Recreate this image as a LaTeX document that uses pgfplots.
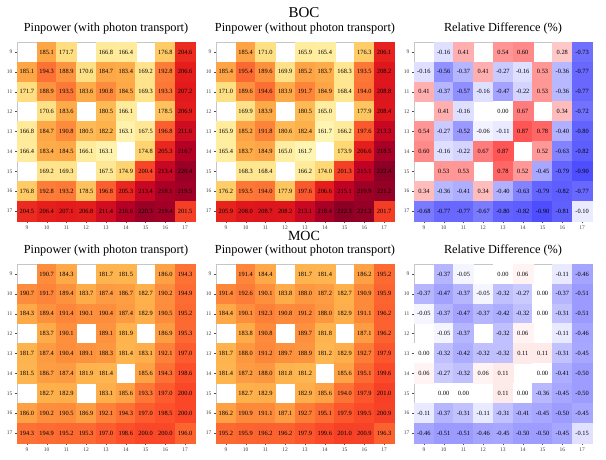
\documentclass[border=0pt]{standalone}
\usepackage{fontspec}
\setmainfont{Liberation Serif}
\usepackage{pgfplots}
\pgfplotsset{compat=1.18}
\usepackage{pgfplotstable}

\pgfplotsset{
  colormap={ylorrd}{rgb255=(255,255,204) rgb255=(255,237,160) rgb255=(254,217,118) rgb255=(254,178,76) rgb255=(253,141,60) rgb255=(252,78,42) rgb255=(227,26,28) rgb255=(189,0,38) rgb255=(128,0,38)},
  colormap={bwr}{rgb255=(0,0,255) rgb255=(255,255,255) rgb255=(255,0,0)},
  hm/.style={
    scale only axis, width=178pt, height=179pt,
    xmin=8.5, xmax=17.5, ymin=8.5, ymax=17.5, y dir=reverse,
    xtick={9,...,17}, ytick={9,...,17},
    tick align=outside, major tick length=2pt,
    xtick pos=left, ytick pos=left,
    tick style={gray!60!black, line width=0.3pt},
    ticklabel style={font=\fontsize{5.5}{6}\selectfont, text=black!75},
    xticklabel style={yshift=1pt}, yticklabel style={xshift=1pt},
    axis line style={gray!45, line width=0.4pt},
    title style={font=\fontsize{12.3}{14}\selectfont, inner sep=2pt},
    /pgf/number format/assume math mode=true,
    axis on top, anchor=north west,
  },
  pp/.style={colormap name=ylorrd, point meta min=157, point meta max=224},
  rd/.style={colormap name=bwr, point meta min=-1.3, point meta max=1.3},
  hcells/.style={scatter, only marks, mark=square*, mark size=9.93pt,
    scatter/use mapped color={draw=mapped color, fill=mapped color},
    point meta=explicit,
    nodes near coords*={\pgfmathprintnumber[fixed,fixed zerofill,precision=#1,assume math mode=true]{\pgfplotspointmeta}},
    every node near coord/.append style={anchor=center, inner sep=0pt, text=black, font=\fontsize{6.4}{7}\selectfont}},
}

% BOC, with photon transport
\pgfplotstableread[row sep=\\]{
x y z\\
10 9 185.1\\ 11 9 171.7\\ 13 9 166.8\\ 14 9 166.4\\ 16 9 176.8\\ 17 9 204.6\\
9 10 185.1\\ 10 10 194.3\\ 11 10 188.9\\ 12 10 170.6\\ 13 10 184.7\\ 14 10 183.4\\ 15 10 169.2\\ 16 10 192.8\\ 17 10 206.6\\
9 11 171.7\\ 10 11 188.9\\ 11 11 193.5\\ 12 11 183.6\\ 13 11 190.8\\ 14 11 184.5\\ 15 11 169.3\\ 16 11 193.3\\ 17 11 207.2\\
10 12 170.6\\ 11 12 183.6\\ 13 12 180.5\\ 14 12 166.1\\ 16 12 178.5\\ 17 12 206.9\\
9 13 166.8\\ 10 13 184.7\\ 11 13 190.8\\ 12 13 180.5\\ 13 13 182.2\\ 14 13 163.1\\ 15 13 167.5\\ 16 13 196.8\\ 17 13 211.6\\
9 14 166.4\\ 10 14 183.4\\ 11 14 184.5\\ 12 14 166.1\\ 13 14 163.1\\ 15 14 174.8\\ 16 14 205.3\\ 17 14 216.7\\
10 15 169.2\\ 11 15 169.3\\ 13 15 167.5\\ 14 15 174.9\\ 15 15 200.4\\ 16 15 213.4\\ 17 15 220.4\\
9 16 176.8\\ 10 16 192.8\\ 11 16 193.2\\ 12 16 178.5\\ 13 16 196.8\\ 14 16 205.3\\ 15 16 213.4\\ 16 16 218.1\\ 17 16 219.5\\
9 17 204.5\\ 10 17 206.4\\ 11 17 207.1\\ 12 17 206.8\\ 13 17 211.4\\ 14 17 216.6\\ 15 17 220.3\\ 16 17 219.4\\ 17 17 201.5\\
}\tA

% BOC, without photon transport
\pgfplotstableread[row sep=\\]{
x y z\\
10 9 185.4\\ 11 9 171.0\\ 13 9 165.9\\ 14 9 165.4\\ 16 9 176.3\\ 17 9 206.1\\
9 10 185.4\\ 10 10 195.4\\ 11 10 189.6\\ 12 10 169.9\\ 13 10 185.2\\ 14 10 183.7\\ 15 10 168.3\\ 16 10 193.5\\ 17 10 208.2\\
9 11 171.0\\ 10 11 189.6\\ 11 11 194.6\\ 12 11 183.9\\ 13 11 191.7\\ 14 11 184.9\\ 15 11 168.4\\ 16 11 194.0\\ 17 11 208.8\\
10 12 169.9\\ 11 12 183.9\\ 13 12 180.5\\ 14 12 165.0\\ 16 12 177.9\\ 17 12 208.4\\
9 13 165.9\\ 10 13 185.2\\ 11 13 191.8\\ 12 13 180.6\\ 13 13 182.4\\ 14 13 161.7\\ 15 13 166.2\\ 16 13 197.6\\ 17 13 213.3\\
9 14 165.4\\ 10 14 183.7\\ 11 14 184.9\\ 12 14 165.0\\ 13 14 161.7\\ 15 14 173.9\\ 16 14 206.6\\ 17 14 218.5\\
10 15 168.3\\ 11 15 168.4\\ 13 15 166.2\\ 14 15 174.0\\ 15 15 201.3\\ 16 15 215.1\\ 17 15 222.4\\
9 16 176.2\\ 10 16 193.5\\ 11 16 194.0\\ 12 16 177.9\\ 13 16 197.6\\ 14 16 206.6\\ 15 16 215.1\\ 16 16 219.9\\ 17 16 221.2\\
9 17 205.9\\ 10 17 208.0\\ 11 17 208.7\\ 12 17 208.2\\ 13 17 213.1\\ 14 17 218.4\\ 15 17 222.3\\ 16 17 221.2\\ 17 17 201.7\\
}\tB

% BOC, relative difference
\pgfplotstableread[row sep=\\]{
x y z\\
10 9 -0.16\\ 11 9 0.41\\ 13 9 0.54\\ 14 9 0.60\\ 16 9 0.28\\ 17 9 -0.73\\
9 10 -0.16\\ 10 10 -0.56\\ 11 10 -0.37\\ 12 10 0.41\\ 13 10 -0.27\\ 14 10 -0.16\\ 15 10 0.53\\ 16 10 -0.36\\ 17 10 -0.77\\
9 11 0.41\\ 10 11 -0.37\\ 11 11 -0.57\\ 12 11 -0.16\\ 13 11 -0.47\\ 14 11 -0.22\\ 15 11 0.53\\ 16 11 -0.36\\ 17 11 -0.77\\
10 12 0.41\\ 11 12 -0.16\\ 13 12 0.00\\ 14 12 0.67\\ 16 12 0.34\\ 17 12 -0.72\\
9 13 0.54\\ 10 13 -0.27\\ 11 13 -0.52\\ 12 13 -0.06\\ 13 13 -0.11\\ 14 13 0.87\\ 15 13 0.78\\ 16 13 -0.40\\ 17 13 -0.80\\
9 14 0.60\\ 10 14 -0.16\\ 11 14 -0.22\\ 12 14 0.67\\ 13 14 0.87\\ 15 14 0.52\\ 16 14 -0.63\\ 17 14 -0.82\\
10 15 0.53\\ 11 15 0.53\\ 13 15 0.78\\ 14 15 0.52\\ 15 15 -0.45\\ 16 15 -0.79\\ 17 15 -0.90\\
9 16 0.34\\ 10 16 -0.36\\ 11 16 -0.41\\ 12 16 0.34\\ 13 16 -0.40\\ 14 16 -0.63\\ 15 16 -0.79\\ 16 16 -0.82\\ 17 16 -0.77\\
9 17 -0.68\\ 10 17 -0.77\\ 11 17 -0.77\\ 12 17 -0.67\\ 13 17 -0.80\\ 14 17 -0.82\\ 15 17 -0.90\\ 16 17 -0.81\\ 17 17 -0.10\\
}\tC

% MOC, with photon transport
\pgfplotstableread[row sep=\\]{
x y z\\
10 9 190.7\\ 11 9 184.3\\ 13 9 181.7\\ 14 9 181.5\\ 16 9 186.0\\ 17 9 194.3\\
9 10 190.7\\ 10 10 191.7\\ 11 10 189.4\\ 12 10 183.7\\ 13 10 187.4\\ 14 10 186.7\\ 15 10 182.7\\ 16 10 190.2\\ 17 10 194.9\\
9 11 184.3\\ 10 11 189.4\\ 11 11 191.4\\ 12 11 190.1\\ 13 11 190.4\\ 14 11 187.4\\ 15 11 182.9\\ 16 11 190.5\\ 17 11 195.2\\
10 12 183.7\\ 11 12 190.1\\ 13 12 189.1\\ 14 12 181.9\\ 16 12 186.9\\ 17 12 195.3\\
9 13 181.7\\ 10 13 187.4\\ 11 13 190.4\\ 12 13 189.1\\ 13 13 188.3\\ 14 13 181.4\\ 15 13 183.1\\ 16 13 192.1\\ 17 13 197.0\\
9 14 181.5\\ 10 14 186.7\\ 11 14 187.4\\ 12 14 181.9\\ 13 14 181.4\\ 15 14 185.6\\ 16 14 194.3\\ 17 14 198.6\\
10 15 182.7\\ 11 15 182.9\\ 13 15 183.1\\ 14 15 185.6\\ 15 15 193.3\\ 16 15 197.0\\ 17 15 200.0\\
9 16 186.0\\ 10 16 190.2\\ 11 16 190.5\\ 12 16 186.9\\ 13 16 192.1\\ 14 16 194.3\\ 15 16 197.0\\ 16 16 198.5\\ 17 16 200.0\\
9 17 194.3\\ 10 17 194.9\\ 11 17 195.2\\ 12 17 195.3\\ 13 17 197.0\\ 14 17 198.6\\ 15 17 200.0\\ 16 17 200.0\\ 17 17 196.0\\
}\tD

% MOC, without photon transport
\pgfplotstableread[row sep=\\]{
x y z\\
10 9 191.4\\ 11 9 184.4\\ 13 9 181.7\\ 14 9 181.4\\ 16 9 186.2\\ 17 9 195.2\\
9 10 191.4\\ 10 10 192.6\\ 11 10 190.1\\ 12 10 183.8\\ 13 10 188.0\\ 14 10 187.2\\ 15 10 182.7\\ 16 10 190.9\\ 17 10 195.9\\
9 11 184.4\\ 10 11 190.1\\ 11 11 192.3\\ 12 11 190.8\\ 13 11 191.2\\ 14 11 188.0\\ 15 11 182.9\\ 16 11 191.1\\ 17 11 196.2\\
10 12 183.8\\ 11 12 190.8\\ 13 12 189.7\\ 14 12 181.8\\ 16 12 187.1\\ 17 12 196.2\\
9 13 181.7\\ 10 13 188.0\\ 11 13 191.2\\ 12 13 189.7\\ 13 13 188.9\\ 14 13 181.2\\ 15 13 182.9\\ 16 13 192.7\\ 17 13 197.9\\
9 14 181.4\\ 10 14 187.2\\ 11 14 188.0\\ 12 14 181.8\\ 13 14 181.2\\ 15 14 185.6\\ 16 14 195.1\\ 17 14 199.6\\
10 15 182.7\\ 11 15 182.9\\ 13 15 182.9\\ 14 15 185.6\\ 15 15 194.0\\ 16 15 197.9\\ 17 15 201.0\\
9 16 186.2\\ 10 16 190.9\\ 11 16 191.1\\ 12 16 187.1\\ 13 16 192.7\\ 14 16 195.1\\ 15 16 197.9\\ 16 16 199.5\\ 17 16 200.9\\
9 17 195.2\\ 10 17 195.9\\ 11 17 196.2\\ 12 17 196.2\\ 13 17 197.9\\ 14 17 199.6\\ 15 17 201.0\\ 16 17 200.9\\ 17 17 196.3\\
}\tE

% MOC, relative difference
\pgfplotstableread[row sep=\\]{
x y z\\
10 9 -0.37\\ 11 9 -0.05\\ 13 9 0.00\\ 14 9 0.06\\ 16 9 -0.11\\ 17 9 -0.46\\
9 10 -0.37\\ 10 10 -0.47\\ 11 10 -0.37\\ 12 10 -0.05\\ 13 10 -0.32\\ 14 10 -0.27\\ 15 10 0.00\\ 16 10 -0.37\\ 17 10 -0.51\\
9 11 -0.05\\ 10 11 -0.37\\ 11 11 -0.47\\ 12 11 -0.37\\ 13 11 -0.42\\ 14 11 -0.32\\ 15 11 0.00\\ 16 11 -0.31\\ 17 11 -0.51\\
10 12 -0.05\\ 11 12 -0.37\\ 13 12 -0.32\\ 14 12 0.06\\ 16 12 -0.11\\ 17 12 -0.46\\
9 13 0.00\\ 10 13 -0.32\\ 11 13 -0.42\\ 12 13 -0.32\\ 13 13 -0.32\\ 14 13 0.11\\ 15 13 0.11\\ 16 13 -0.31\\ 17 13 -0.45\\
9 14 0.06\\ 10 14 -0.27\\ 11 14 -0.32\\ 12 14 0.06\\ 13 14 0.11\\ 15 14 0.00\\ 16 14 -0.41\\ 17 14 -0.50\\
10 15 0.00\\ 11 15 0.00\\ 13 15 0.11\\ 14 15 0.00\\ 15 15 -0.36\\ 16 15 -0.45\\ 17 15 -0.50\\
9 16 -0.11\\ 10 16 -0.37\\ 11 16 -0.31\\ 12 16 -0.11\\ 13 16 -0.31\\ 14 16 -0.41\\ 15 16 -0.45\\ 16 16 -0.50\\ 17 16 -0.45\\
9 17 -0.46\\ 10 17 -0.51\\ 11 17 -0.51\\ 12 17 -0.46\\ 13 17 -0.45\\ 14 17 -0.50\\ 15 17 -0.50\\ 16 17 -0.45\\ 17 17 -0.15\\
}\tF

\begin{document}
\begin{tikzpicture}
\useasboundingbox (0pt,0pt) rectangle (606pt,-459pt);
\node[font=\fontsize{15}{17}\selectfont] at (304pt,-13pt) {BOC};
\node[font=\fontsize{14}{16}\selectfont] at (304pt,-236pt) {MOC};

\begin{axis}[hm, pp, at={(17pt,-42pt)}, title={Pinpower (with photon transport)}]
\addplot[hcells=1] table[x=x, y=y, meta=z] {\tA};
\end{axis}
\begin{axis}[hm, pp, at={(216pt,-42pt)}, title={Pinpower (without photon transport)}]
\addplot[hcells=1] table[x=x, y=y, meta=z] {\tB};
\end{axis}
\begin{axis}[hm, rd, at={(414pt,-42pt)}, title={Relative Difference (\%)}]
\addplot[hcells=2] table[x=x, y=y, meta=z] {\tC};
\end{axis}

\begin{axis}[hm, pp, at={(17pt,-264pt)}, title={Pinpower (with photon transport)}]
\addplot[hcells=1] table[x=x, y=y, meta=z] {\tD};
\end{axis}
\begin{axis}[hm, pp, at={(216pt,-264pt)}, title={Pinpower (without photon transport)}]
\addplot[hcells=1] table[x=x, y=y, meta=z] {\tE};
\end{axis}
\begin{axis}[hm, rd, at={(414pt,-264pt)}, title={Relative Difference (\%)}]
\addplot[hcells=2] table[x=x, y=y, meta=z] {\tF};
\end{axis}
\end{tikzpicture}
\end{document}
